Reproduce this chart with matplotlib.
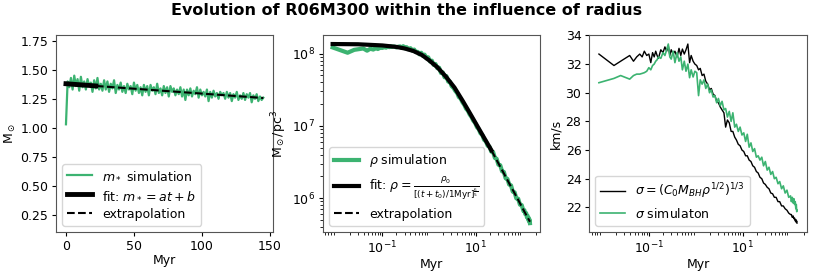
import matplotlib
matplotlib.use("Agg")
import matplotlib.pyplot as plt
import numpy as np

# ---- panel 1 : stellar mass m_* vs time (linear axes)
m_star = [
    1.03, 1.40, 1.35, 1.43, 1.33, 1.45, 1.36, 1.42, 1.32, 1.44, 1.35, 1.40,
    1.33, 1.42, 1.36, 1.39, 1.31, 1.41, 1.34, 1.43, 1.33, 1.38, 1.32, 1.41,
    1.33, 1.40, 1.31, 1.38, 1.34, 1.41, 1.30, 1.37, 1.33, 1.39, 1.31, 1.36,
    1.30, 1.38, 1.33, 1.36, 1.29, 1.39, 1.32, 1.37, 1.30, 1.35, 1.28, 1.37,
    1.31, 1.36, 1.28, 1.37, 1.32, 1.35, 1.29, 1.38, 1.30, 1.34, 1.28, 1.36,
    1.30, 1.35, 1.27, 1.36, 1.31, 1.34, 1.28, 1.33, 1.29, 1.35, 1.27, 1.33,
    1.24, 1.33, 1.28, 1.34, 1.27, 1.32, 1.29, 1.35, 1.26, 1.33, 1.28, 1.31,
    1.27, 1.33, 1.23, 1.31, 1.26, 1.32, 1.27, 1.30, 1.25, 1.31, 1.28, 1.30,
    1.25, 1.31, 1.26, 1.30, 1.23, 1.29, 1.26, 1.31, 1.24, 1.28, 1.25, 1.30,
    1.24, 1.29, 1.26, 1.30, 1.22, 1.28, 1.25, 1.29, 1.23, 1.27, 1.24, 1.26,
]
t_mass = np.linspace(0, 145, len(m_star))
fit_t = [0, 22]
fit_m = [1.38, 1.361]
ext_t = [22, 145]
ext_m = [1.361, 1.257]

# ---- shared time samples for the log-time panels (Myr)
t_sim = [
    0.0086, 0.018, 0.025, 0.039, 0.047, 0.055, 0.064, 0.072, 0.08, 0.09,
    0.1, 0.11, 0.12, 0.13, 0.14, 0.15, 0.16, 0.18, 0.2, 0.22,
    0.24, 0.26, 0.28, 0.3, 0.33, 0.36, 0.4, 0.44, 0.48, 0.52,
    0.57, 0.62, 0.68, 0.74, 0.8, 0.88, 0.96, 1.05, 1.15, 1.25,
    1.37, 1.5, 1.64, 1.8, 1.97, 2.15, 2.35, 2.57, 2.8, 3.05,
    3.35, 3.65, 4.0, 4.35, 4.75, 5.2, 5.7, 6.2, 6.8, 7.4,
    8.1, 8.85, 9.7, 10.6, 11.6, 12.6, 13.8, 15.1, 16.5, 18,
    19.7, 21.5, 23.5, 25.7, 28, 30.6, 33.5, 36.6, 40, 43.7,
    47.7, 52, 57, 62, 68, 74, 81, 88.5, 96.5, 105.5,
    110, 115, 120, 125, 129, 133, 137, 140, 143, 145,
]

# ---- panel 2 : density (units of 1e6 Msun/pc^3)
rho_sim = [
    122, 103, 113, 118, 110, 117, 114, 120, 116, 121,
    120, 124, 121, 126, 123, 127, 124, 126, 122, 125,
    126, 120, 127, 119, 123, 115, 119, 110, 114, 105,
    106, 98, 103, 93, 97, 86, 89, 78, 80, 70,
    72, 63, 64, 54, 55, 47, 49, 41, 41, 35.5,
    33.5, 30.5, 28.5, 25, 24, 21.2, 19.5, 17.3, 16.2, 14.4,
    13.3, 11.8, 11.0, 9.6, 9.0, 7.9, 7.5, 6.4, 6.1, 5.3,
    5.15, 4.4, 4.35, 3.6, 3.5, 2.9, 2.85, 2.35, 2.3, 1.88,
    1.84, 1.54, 1.50, 1.23, 1.2, 0.99, 0.98, 0.81, 0.8, 0.66,
    0.68, 0.60, 0.62, 0.54, 0.57, 0.50, 0.53, 0.47, 0.50, 0.45,
]
t_rho_fit = [0.0086, 0.03, 0.1, 0.2, 0.3, 0.46, 0.7, 1.0, 1.5, 2.3,
             3.5, 5.3, 7.5, 10.3, 15, 21.6]
rho_fit = [136, 135, 130, 124, 118, 109, 96, 81, 65, 48,
           34, 22, 15, 10.5, 6.9, 4.6]
t_rho_ext = [21.6, 30, 50, 80, 110, 145]
rho_ext = [4.6, 3.1, 1.68, 0.96, 0.65, 0.47]

# ---- panel 3 : velocity dispersion (km/s)
sigma_model = [
    32.7, 31.9, 32.2, 32.6, 32.2, 32.5, 32.7, 32.5, 32.9, 32.6,
    32.7, 32.1, 32.8, 32.5, 32.9, 32.6, 32.4, 33.0, 32.8, 33.2,
    32.9, 33.3, 32.6, 33.0, 32.7, 32.9, 32.5, 33.1, 32.6, 33.05,
    32.7, 33.0, 33.4, 32.1, 32.6, 32.2, 32.0, 31.9, 31.6, 31.7,
    31.2, 31.3, 30.8, 30.6, 30.2, 30.3, 29.9, 29.8, 29.4, 29.3,
    29.0, 28.8, 28.6, 27.6, 28.1, 27.9, 27.3, 27.3, 26.9, 26.7,
    26.4, 26.3, 26.0, 25.9, 25.6, 25.6, 25.3, 25.2, 24.9, 24.8,
    24.5, 24.4, 24.1, 24.0, 23.7, 23.6, 23.4, 23.3, 23.0, 22.95,
    22.7, 22.7, 22.4, 22.4, 22.1, 22.1, 21.9, 21.8, 21.6, 21.5,
    21.5, 21.3, 21.4, 21.2, 21.25, 21.05, 21.15, 20.95, 21.05, 20.9,
]
sigma_sim = [
    30.7, 31.0, 31.2, 30.95, 31.2, 31.3, 31.3, 31.35, 31.4, 31.5,
    31.75, 31.6, 31.9, 32.0, 32.2, 32.3, 32.5, 32.4, 32.8, 32.6,
    33.0, 33.4, 32.5, 32.35, 32.9, 32.1, 32.8, 32.2, 32.5, 31.6,
    32.2, 31.5, 32.0, 31.05, 31.6, 31.1, 31.5, 31.4, 29.8, 30.9,
    30.6, 30.9, 30.3, 30.6, 30.0, 30.2, 29.7, 29.8, 29.3, 29.6,
    29.1, 29.4, 28.8, 28.9, 28.3, 28.7, 28.0, 28.6, 27.6, 27.8,
    27.3, 27.6, 27.05, 27.2, 26.6, 27.1, 26.2, 26.5, 25.9, 26.1,
    25.5, 25.6, 25.3, 25.5, 24.9, 25.2, 24.6, 24.8, 24.3, 24.5,
    24.0, 24.1, 23.65, 23.8, 23.3, 23.5, 23.0, 23.2, 22.7, 22.8,
    22.4, 22.7, 22.3, 22.6, 22.2, 22.4, 21.9, 22.2, 21.7, 21.8,
]

green = 'mediumseagreen'
plt.rcParams['font.size'] = 9

fig = plt.figure(figsize=(8.13, 2.74), dpi=100)
ax1 = fig.add_axes([0.069, 0.153, 0.267, 0.719])
ax2 = fig.add_axes([0.397, 0.153, 0.267, 0.719])
ax3 = fig.add_axes([0.7245, 0.153, 0.268, 0.719])

# panel 1
ax1.plot(t_mass, m_star, color=green, lw=1.6, label=r'$m_*$ simulation')
ax1.plot(fit_t, fit_m, color='black', lw=3.5, label=r'fit: $m_* = at + b$')
ax1.plot(ext_t, ext_m, color='black', lw=1.5, ls='--', label='extrapolation')
ax1.set_ylim(0.1, 1.8)
ax1.set_yticks([0.25, 0.5, 0.75, 1.0, 1.25, 1.5, 1.75])
ax1.set_xticks([0, 50, 100, 150])
ax1.set_ylabel(r'M$_\odot$', labelpad=2)
ax1.legend(loc='lower left')

# panel 2
ax2.plot(t_sim, np.array(rho_sim) * 1e6, color=green, lw=3, label=r'$\rho$ simulation')
ax2.plot(t_rho_fit, np.array(rho_fit) * 1e6, color='black', lw=3,
         label=r'fit: $\rho = \frac{\rho_0}{[(t+t_0)/1\mathrm{Myr}]^{\frac{6}{5}}}$')
ax2.plot(t_rho_ext, np.array(rho_ext) * 1e6, color='black', lw=1.5, ls='--', label='extrapolation')
ax2.set_xscale('log')
ax2.set_yscale('log')
ax2.set_xticks([0.1, 10])
ax2.set_ylabel(r'M$_\odot$/pc$^3$', labelpad=2)
ax2.legend(loc='lower left')

# panel 3
ax3.plot(t_sim, sigma_model, color='black', lw=1,
         label=r'$\sigma = (C_0 M_{BH} \rho^{1/2})^{1/3}$')
ax3.plot(t_sim, sigma_sim, color=green, lw=1.2, label=r'$\sigma$ simulaton')
ax3.set_xscale('log')
ax3.set_xticks([0.1, 10])
ax3.set_yticks([22, 24, 26, 28, 30, 32, 34])
ax3.set_ylabel('km/s', labelpad=2)
ax3.legend(loc='lower left')

for ax in (ax1, ax2, ax3):
    ax.set_xlabel('Myr', labelpad=1)
    ax.tick_params(length=3, pad=2.5)
    for s in ax.spines.values():
        s.set_color('#555555')

fig.suptitle('Evolution of R06M300 within the influence of radius',
             fontweight='bold', fontsize=11.5, y=0.96, va='center')

fig.savefig('out.png', dpi=100)
